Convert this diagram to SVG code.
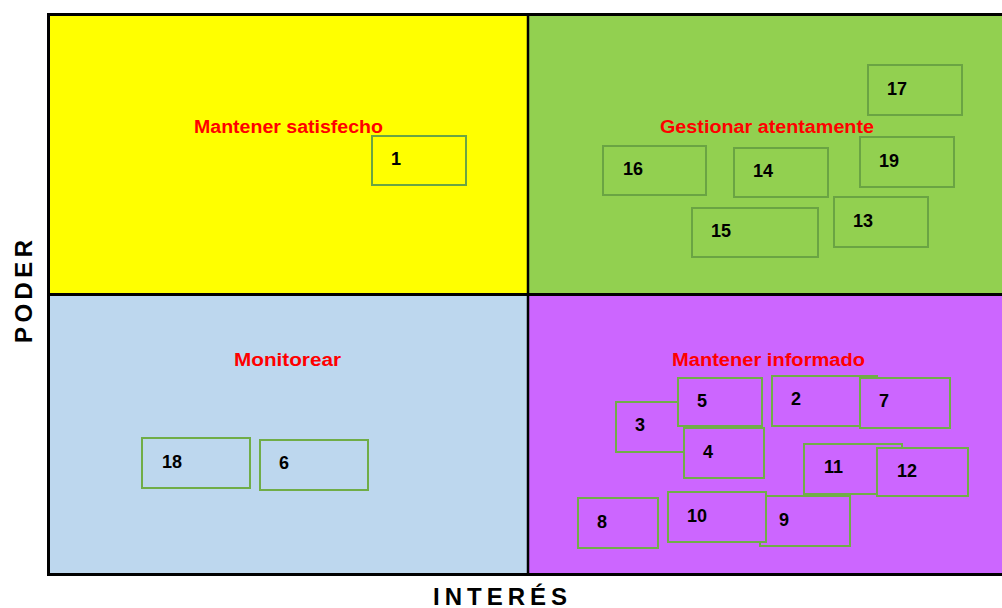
<svg xmlns="http://www.w3.org/2000/svg" width="1002" height="608" viewBox="0 0 1002 608">
<style>
.q{stroke:none}
.frame{fill:none;stroke:#000;stroke-width:3}
.box rect{stroke:#70AD47;stroke-width:2}
.box text{font-family:"Liberation Sans",Arial,sans-serif;font-weight:bold;font-size:18px;fill:#000}
.hi rect{stroke:#6AA443}
.lbl{font-family:"Liberation Sans",Arial,sans-serif;font-weight:bold;font-size:18px;fill:#FF0000}
.axis{font-family:"Liberation Sans",Arial,sans-serif;font-weight:bold;font-size:24px;fill:#000}
</style>
<rect width="1002" height="608" fill="#fff"/>
<g id="quadrants">
<rect class="q" x="48" y="14" width="480" height="280" fill="#FFFF00"/>
<rect class="q" x="528" y="14" width="480" height="280" fill="#92D050"/>
<rect class="q" x="48" y="294" width="480" height="280" fill="#BDD7EE"/>
<rect class="q" x="528" y="294" width="480" height="280" fill="#CC66FF"/>
</g>
<g id="grid-lines">
<rect class="frame" x="48.5" y="14.5" width="960" height="560"/>
<line x1="528" y1="14" x2="528" y2="574" stroke="#000" stroke-width="2.5"/>
<line x1="48" y1="294.5" x2="1008" y2="294.5" stroke="#000" stroke-width="3"/>
</g>
<g id="quadrant-labels">
<text class="lbl" x="194" y="133" textLength="189" lengthAdjust="spacingAndGlyphs">Mantener satisfecho</text>
<text class="lbl" x="660" y="133" textLength="214" lengthAdjust="spacingAndGlyphs">Gestionar atentamente</text>
<text class="lbl" x="234" y="366" textLength="107" lengthAdjust="spacingAndGlyphs">Monitorear</text>
<text class="lbl" x="672" y="366" textLength="193" lengthAdjust="spacingAndGlyphs">Mantener informado</text>
</g>
<g id="axes">
<text class="axis" x="433" y="605" textLength="134" lengthAdjust="spacing">INTERÉS</text>
<text class="axis" transform="translate(32,343) rotate(-90)" x="0" y="0" textLength="103" lengthAdjust="spacing">PODER</text>
</g>
<g id="n1" class="box hi"><rect x="372" y="136" width="94" height="49" fill="#FFFF00"/><text x="391" y="165">1</text></g>
<g id="n16" class="box hi"><rect x="603" y="146" width="103" height="49" fill="#92D050"/><text x="623" y="175">16</text></g>
<g id="n14" class="box hi"><rect x="734" y="148" width="94" height="49" fill="#92D050"/><text x="753" y="177">14</text></g>
<g id="n17" class="box hi"><rect x="868" y="65" width="94" height="50" fill="#92D050"/><text x="887" y="95">17</text></g>
<g id="n19" class="box hi"><rect x="860" y="137" width="94" height="50" fill="#92D050"/><text x="879" y="167">19</text></g>
<g id="n13" class="box hi"><rect x="834" y="197" width="94" height="50" fill="#92D050"/><text x="853" y="227">13</text></g>
<g id="n15" class="box hi"><rect x="692" y="208" width="126" height="49" fill="#92D050"/><text x="711" y="237">15</text></g>
<g id="n18" class="box"><rect x="142" y="438" width="108" height="50" fill="#BDD7EE"/><text x="162" y="468">18</text></g>
<g id="n6" class="box"><rect x="260" y="440" width="108" height="50" fill="#BDD7EE"/><text x="279" y="469">6</text></g>
<g id="n3" class="box"><rect x="616" y="402" width="94" height="50" fill="#CC66FF"/><text x="635" y="431">3</text></g>
<g id="n5" class="box"><rect x="678" y="378" width="84" height="48" fill="#CC66FF"/><text x="697" y="407">5</text></g>
<g id="n4" class="box"><rect x="684" y="428" width="80" height="50" fill="#CC66FF"/><text x="703" y="458">4</text></g>
<g id="n2" class="box"><rect x="772" y="376" width="105" height="50" fill="#CC66FF"/><text x="791" y="405">2</text></g>
<g id="n7" class="box"><rect x="860" y="378" width="90" height="50" fill="#CC66FF"/><text x="879" y="407">7</text></g>
<g id="n11" class="box"><rect x="804" y="444" width="98" height="50" fill="#CC66FF"/><text x="824" y="473">11</text></g>
<g id="n12" class="box"><rect x="877" y="448" width="91" height="48" fill="#CC66FF"/><text x="897" y="477">12</text></g>
<g id="n8" class="box"><rect x="578" y="498" width="80" height="50" fill="#CC66FF"/><text x="597" y="528">8</text></g>
<g id="n9" class="box"><rect x="760" y="496" width="90" height="50" fill="#CC66FF"/><text x="779" y="526">9</text></g>
<g id="n10" class="box"><rect x="668" y="492" width="98" height="50" fill="#CC66FF"/><text x="687" y="522">10</text></g>
<g id="connectors"></g>
</svg>
